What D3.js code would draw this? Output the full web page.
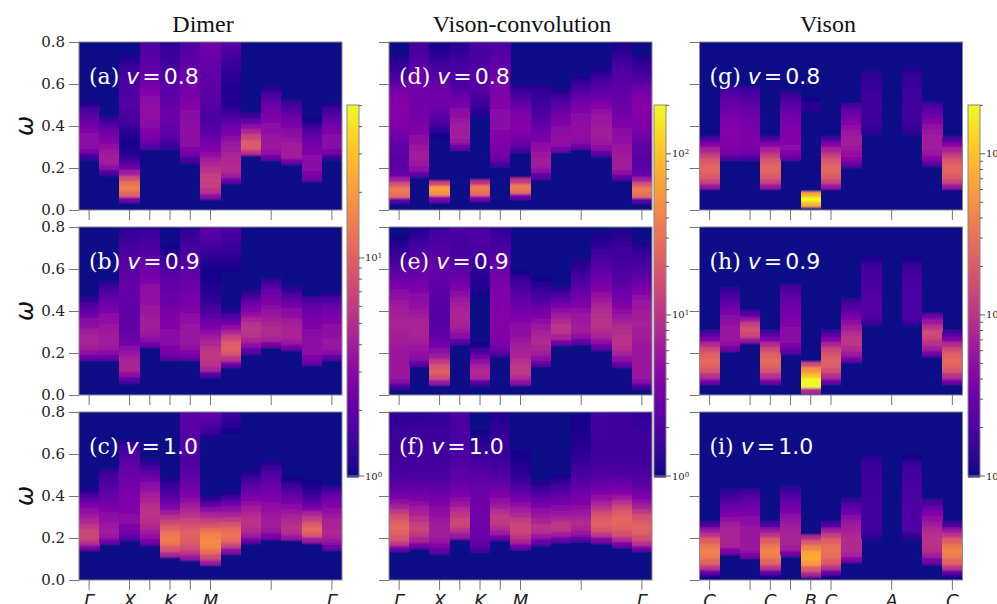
<!DOCTYPE html>
<html lang="en">
<head>
<meta charset="UTF-8">
<title>Dimer and vison spectra</title>
<script src="https://d3js.org/d3.v7.min.js"></script>
<style>
  html, body { margin: 0; background: #fff; overflow: hidden; }
  svg { display: block; }
  .axis path, .axis line { stroke: #777; }
  .axis text { font-family: "DejaVu Serif", serif; fill: #222; }
</style>
</head>
<body>
<svg id="chart" width="997" height="604">
  <defs>
    <filter id="soft" x="-2%" y="-2%" width="104%" height="104%"><feGaussianBlur stdDeviation="0.4 1"/></filter>
  </defs>
</svg>
<script>
// each column: first entry = omega where the band starts, then intensity per 0.025 bin going up
const binStep = 0.025;
const ticksAt = [0, 2, 3, 4, 5, 6, 9, 12];
const dimerTickLabels = ["Γ", "X", "", "K", "", "M", "", "Γ"];
const visonTickLabels = ["C", "", "C", "", "B", "C", "A", "C"];
const omegaTicks = [0, 0.2, 0.4, 0.6, 0.8];

const dimer08 = [
  [.241,1.8,3.4,4,4,3.9,3.6,3.2,2.8,2.4,2,1.5,1.2],
  [.168,2.2,4,5,5.2,4.8,4.3,3.7,3.2,2.8,2.3,1.8,1.3],
  [.04,3.5,14,19,16,10,5,3,2.2,1.7,1.5,1.4,1.4,1.5,1.6,1.8,2,2.1,2.2,2.3,2.3,2.2,2.2,2.1,2,1.9,1.8,1.6,1.5,1.3,1.2],
  [.294,2.4,3,3.4,3.6,3.8,4.1,4.3,4.4,4.2,4,3.7,3.4,3.1,2.9,2.7,2.6,2.5,2.4,2.3,2.2,2.1],
  [.294,1.8,2.2,2.5,2.6,2.7,2.8,2.8,2.8,2.7,2.6,2.5,2.4,2.3,2.2,2.1,2,1.9,1.8,1.8,1.7,1.6],
  [.227,2,3,3.6,4,4.1,4.2,4.1,4,3.9,3.8,3.7,3.6,3.4,3.2,3.1,3,2.9,2.8,2.7,2.5,2.4,2.3,2.1],
  [.054,4,7,8,8.4,8,7,6,5,4.2,3.6,3.2,2.8,2.5,2.3,2.2,2.1,2.2,2.3,2.4,2.4,2.4,2.5,2.5,2.6,2.6,2.7,2.8,2.9,2.9,3],
  [.13,3,5,6.2,6.4,6,5.4,5,4.5,4,3.5,3,2.5,2.1,1.8,1.6,1.5,1.5,1.5,1.5,1.6,1.6,1.7,1.8,1.9,2,2.2,2.4],
  [.262,7,12,12,9,6,4,2.8,1.8],
  [.24,3,4.4,4.8,4.8,4.5,4.2,4,3.7,3.4,3.1,2.8,2.4,2,1.6,1.2],
  [.219,3,5,5.2,5,4.6,4.2,3.8,3.4,3,2.6,2.2,1.9,1.3],
  [.138,3,3.6,3.9,3.9,3.8,3.6,3.3,3,2.6,2.2,1.8,1.4,1.2],
  [.24,1.8,3.3,3.8,3.9,3.8,3.5,3.1,2.7,2.3,1.9,1.5,1.2]
];
const dimer09 = [
  [.166,2.8,4.4,5.2,5.5,5.5,5,4.4,3.8,3.2,2.6,2.2,1.7,1.3],
  [.166,2.8,4,4.8,5,5,4.8,4.6,4.2,3.8,3.4,3,2.7,2.3,2,1.7,1.3],
  [.06,2.4,4.4,5.6,5.8,5.4,4.6,3.8,3.2,2.9,2.7,2.6,2.6,2.6,2.6,2.6,2.7,2.7,2.7,2.7,2.6,2.5,2.4,2.4,2.3,2.2,2,1.9,1.8,1.7,1.6],
  [.23,3,3.8,4.8,5.2,5.3,5,4.8,4.6,4.4,4.3,4.2,4,3.6,3.3,3,2.8,2.6,2.4,2.2,2.1,2,1.9,1.7],
  [.166,2.6,3.3,3.6,3.8,3.8,3.8,3.7,3.6,3.5,3.3,3.1,2.9,2.8,2.7,2.6,2.5,2.3,2.1,1.9,1.7,1.5,1.4,1.3,1.3,1.2],
  [.166,2.8,3.6,4.2,4.5,4.6,4.6,4.5,4.3,4,3.7,3.5,3.3,3.1,2.9,2.8,2.7,2.6,2.5,2.3,2.2,2.1,2,1.9,1.8,1.7],
  [.087,2.5,5.5,7,7.6,7.6,7,6,5,4.2,3.5,3,2.5,2.2,1.9,1.7,1.6,1.5,1.5,1.4,1.4,1.4,1.5,1.6,1.7,1.9,2.1,2.3,2.4,2.5],
  [.135,3,7,11,13,12,9,6,4.2,3,2.2,1.6,1.3,1.1,1,1,1,1.1,1.2,1.4,1.5,1.6,1.7,1.8,1.9,2,2,2.1],
  [.198,2.6,4.2,5.8,6.8,7.2,6.8,5.6,4.4,3.5,2.8,2.2,1.7,1.2],
  [.23,3.6,5.4,6.2,6.2,5.8,5.2,4.6,4,3.6,3.2,2.8,2.3,1.8,1.3],
  [.214,3,4.8,5.8,5.8,5.6,5,4.4,3.8,3.2,2.7,2.2,1.7,1.2],
  [.143,2.8,3.6,4,4,4,3.9,3.8,3.6,3.3,3,2.8,2.5,2,1.3],
  [.166,2.6,3.8,4.5,4.6,4.4,4.2,4,3.7,3.4,3.1,2.7,2.2,1.6]
];
const dimer10 = [
  [.143,3.6,7,9.4,9,7.4,6,5,4.2,3.4,2.6,2,1.5,1.2],
  [.174,3,4.6,5,4.8,4.4,4,3.6,3.2,2.9,2.6,2.4,2.2,2,1.8,1.3],
  [.193,2.4,3.2,3.6,3.8,3.8,3.7,3.6,3.5,3.4,3.3,3.1,3,2.9,2.7,2.5,2.3,2.1,1.9,1.5,1.2],
  [.17,3,4.4,5.2,6,6.6,7,7,6.6,5.8,5,4.4,3.8,3.2,2.6,2.1,1.7,1.3,1.2,1.1],
  [.111,6,11,17,19,17,13,9.5,7,5,3.6,2.8,2.3,2,1.8,1.5,1.3,1.2,1.2,1.2,1.1,1.1,1.1],
  [.095,4.5,7.5,10,12,13,13,11,9,7,6,5,4,3.6,3.2,2.9,2.7,2.5,2.3,2.2,2.2,2.2,2.3,2.3,2.3,2.4,2.4,2.4,2.4,2.4],
  [.074,5,10,16,21,22,20,16,11,8,5.5,3.8,2.5,1.7,1.2,1,1,1,1,1,1,1,1.1,1.2,1.3,1.5,1.8,2.1,2.4,2.6],
  [.127,4,9,15,17,15,11,7.5,5.5,4,2.9,2,1.5,1.2,1,1,1,1,1,1.1,1.1,1.2,1.2,1.3,1.4,1.6,1.7,1.8],
  [.177,3,5,6.4,7,7,6.2,5.2,4.3,3.6,3,2.6,2.2,1.8,1.5,1.2],
  [.198,3.4,4.8,5,5,4.8,4.4,4,3.6,3.3,3,2.7,2.4,2.1,1.8,1.5,1.3,1.2],
  [.19,4.5,6.5,7,6.2,5.4,4.6,3.8,3.2,2.7,2.2,1.8,1.4],
  [.179,5,12,15,12,8,5.5,3.6,2.6,2,1.7,1.5,1.4,1.3,1.3,1.2,1.2,1.1],
  [.146,3,4.6,5.6,6,5.8,5.4,4.8,4.2,3.6,3,2.5,1.9,1.3]
];

const conv08 = [
  [.035,3.5,42,52,26,9,4,3.4,3.2,3.2,3.4,3.6,3.9,4.4,5,5.6,5.8,6,6,6,5.8,5.4,4.6,3.8,3,2.5,2.2,2,1.8,1.5,1.2,1.1],
  [.159,3.6,7,8.8,9.2,9,8.4,7.6,6.8,6,5.4,5,4.8,4.6,4.6,4.6,4.6,4.6,4.4,4.2,4,3.6,3.3,3,2.8,2.6,2.4],
  [.041,6,70,90,20,1,1,1,1,1,1,1,1,1.6,2,2.4,3,3.6,4.2,4.6,4.8,4.6,4.2,3.8,3.4,3,2.6,2.3,2,1.8,1.6,1.4],
  [.289,4.4,8,9,9.2,9,8.4,7.4,6.2,5,4.2,3.6,3.2,2.9,2.8,2.7,2.6,2.5,2.3,2.1,2,1.9],
  [.044,6,40,50,14,1,1,1,1,1,1,1,1,1,1,1,1.4,1.8,2,2.3,2.6,3,3.2,3.2,3.2,3.1,3,2.9,2.8,2.7,2.6,2.4],
  [.206,2.6,4,4.8,5.2,5.6,5.8,6,6.2,6.2,6.2,6.2,6,5.8,5.6,5.4,5.2,4.8,4.4,4,3.6,3.4,3.2,3,2.8],
  [.052,5,42,52,16,1,1,1,1,1,3,4,5,5.6,6,6,5.8,5.2,4.4,3.6,2.8,2.2,1.8,1.5,1.2],
  [.151,3.6,7,9,9.4,8.8,7.6,6.4,5.4,4.6,4,3.6,3.2,2.8,2.5,2.3,2.2,2,1.8,1.4],
  [.278,5,7,7.6,7,6.4,5.8,5,4.4,3.6,3,2.4,1.8,1.3],
  [.29,4.2,6.4,7.2,7.2,7,6.6,6.2,5.6,5,4.2,3.4,2.8,2.2,1.7],
  [.259,3.8,7,8.6,9.4,9.4,9,8.6,8,7,6,5,4.2,3.5,3,2.5,2.1,1.7,1.3],
  [.143,3.6,7,9,9.4,9.2,8.8,8.2,7.6,7,6.4,5.8,5.2,4.8,4.4,4.2,4,3.8,3.6,3.4,3.2,3,2.8,2.5,2.2,1.9,1.7,1.6],
  [.035,3.5,42,52,26,9,4,3.4,3.2,3.2,3.4,3.6,3.9,4.4,5,5.6,5.8,6,6,6,5.8,5.4,4.6,3.8,3,2.5,2.2,2,1.8,1.5,1.2,1.1]
];
const conv09 = [
  [.029,2.8,6.4,8.4,8.8,8.6,8.4,8.4,8.6,9,9.4,9.8,10,10.2,10,9.6,9,8.4,7.4,6.4,5.4,4.6,4,3.5,3,2.6,2.3,2,1.8,1.6,1.4,1.2],
  [.138,3.8,6.4,7.6,8.4,9.4,10.4,11,11,10.4,9.6,8.6,7.6,6.8,6.2,5.6,5,4.6,4.2,3.8,3.5,3.2,3,2.7,2.4,2.1,1.9,1.7],
  [.048,8,22,32,26,16,9,6.4,5,4.2,3.6,3.4,3.2,3.2,3.2,3.2,3.2,3.2,3.3,3.4,3.6,3.8,3.8,3.8,3.6,3.4,3.2,3,2.8,2.6,2.3,2.1],
  [.245,3.4,6.4,8.4,10,11,11,10.4,9.4,8,6.6,5.4,4.6,4,3.6,3.3,3,2.8,2.6,2.5,2.6,2.7,2.8,2.9],
  [.048,3,11,12.4,10,7,4.4,2.6,1.6,1.1,1,1,1,1.1,1.2,1.3,1.4,1.5,1.6,1.7,1.8,1.9,2,2.1,2.3,2.5,2.7,2.9,3,3,2.9],
  [.187,3,4.6,5.2,5.6,5.8,6,6,6,6,5.8,5.8,5.6,5.4,5.2,5,4.6,4.2,3.8,3.4,3,2.6,2.4,2.3,2.1,2.1],
  [.048,7,12,16,16,13,11,10,9,8.4,7.6,7,6.4,5.8,5.2,4.6,4,3.6,3.2,2.8,2.4,2,1.6,1.2],
  [.138,4,7,9,11,12,11.4,10,8.6,7,5.8,4.8,3.8,3,2.6,2.2,1.9,1.6,1.4,1.2],
  [.24,5,11,15,15,12,9,6.6,5,3.8,2.8,2,1.4,1.1],
  [.242,4,7.4,9,9.4,8.8,8,7,6,5,4.2,3.6,3,2.6,2.3,2,1.8,1.4,1.2],
  [.217,4,7.6,10,12.4,14,14,13,12,10.4,8.6,7.2,6,5,4.4,3.8,3.4,3,2.7,2.4,2.1,1.9,1.7,1.4],
  [.135,4,7,10,13,14,14,13,12,10,8.6,7.2,6,5.2,4.6,4,3.6,3.2,3,2.8,2.6,2.5,2.4,2.3,2.2,2,1.8],
  [.029,2.8,6.4,8.2,8.8,8.8,8.6,8.4,8.4,8.8,9.2,9.6,9.8,10,9.8,9.4,8.8,8,7,6,5,4.2,3.6,3.1,2.8,2.5,2.2,1.9,1.7,1.5,1.3,1.1]
];
const conv10 = [
  [.139,5,16,26,34,36,32,24,15,10,6.8,5,4,3.4,3,2.7,2.5,2.4,2.4,2.4,2.4,2.4,2.4,2.3,2.2,2.1,2.1,2],
  [.154,5,11,16,20,18,14,11,9,7,5.4,4.4,3.6,3.2,2.9,2.7,2.6,2.5,2.5,2.5,2.5,2.4,2.4,2.3,2.2,2.1,2],
  [.127,3.6,6,8,9,9.2,9,8.4,7.6,6.6,5.6,4.8,4.2,3.6,3.2,2.9,2.7,2.6,2.5,2.4,2.4,2.4,2.3,2.3,2.3,2.2,2.2,2.2,2.1],
  [.198,8,14,20,20,16,12,8.6,6.6,5.4,4.6,4,3.6,3.4,3.2,3,2.9,2.9,2.8,2.8,2.8,2.8,2.8,2.8,2.8],
  [.135,2.8,3.6,4,4.2,4.4,4.5,4.5,4.5,4.5,4.4,4.4,4.2,4,3.6,3.3,3,2.8,2.5,2.3,2.1,1.9,1.7,1.6,1.5,1.4,1.3,1.2],
  [.19,4.6,9,13,16,16,13,9.4,7.4,5.8,4.8,4,3.4,3,2.7,2.5,2.3,2.2,2.2,2.2,2.2,2.1,2,1.9,1.8,1.7],
  [.147,5,11,16,20,20,17,12,9,7,5.2,4,3.2,2.6,2.2,1.9,1.8,1.7,1.6,1.6,1.5,1.5,1.4,1.4,1.4,1.3,1.2],
  [.17,4,8.4,13,14,11,8.4,6.8,5.2,4,3,2.4,1.9,1.5,1.3,1.2,1.2,1.2,1.2,1.2,1.2,1.2,1.3,1.3,1.3,1.2,1.2],
  [.182,4.2,9,15,15,11,8,6.2,5,4,3.2,2.6,2,1.6,1.4,1.3,1.2,1.2,1.2,1.2,1.2,1.2,1.2,1.2,1.2,1.2],
  [.185,4,8,11,12,10,8,6.8,5.8,5,4.2,3.6,3.2,2.8,2.5,2.3,2.1,2,1.9,1.8,1.7,1.7,1.6,1.6,1.6,1.5],
  [.179,6,16,28,32,30,24,15,10,7.6,5.8,4.6,3.8,3.2,2.9,2.6,2.5,2.4,2.4,2.4,2.4,2.5,2.5,2.5,2.5,2.5],
  [.158,5,12,24,32,36,36,30,22,14,8.4,6,4.6,3.8,3.2,2.8,2.6,2.5,2.4,2.4,2.4,2.4,2.4,2.4,2.4,2.3,2.3],
  [.139,5,14,24,32,34,30,24,15,10,6.8,5.2,4.2,3.6,3.2,2.9,2.7,2.5,2.4,2.4,2.3,2.3,2.3,2.3,2.2,2.2,2.1,2]
];

const vison08 = [
  [.1,8,20,30,36,34,27,18,11,6,3],
  [.238,3.2,5,5.6,5.8,6,6,6,5.6,5,4.6,4,3.6,3,2.6],
  [.238,3,4.6,5.2,5.4,5.4,5.2,5,4.8,4.4,4,3.6,3.2,2.8,2.3],
  [.1,8,20,30,36,34,27,18,11,6,3],
  [.238,4.2,6,6.2,6,5.8,5.6,5.4,5,4.6,4,3.4,2.8,2.2,1.4],
  [.014,120,300,110,1,1,1,1,1,1,1,1,1,1,1,1,1,1,1.5,1.8,1.9,1.6],
  [.1,8,20,30,36,34,27,18,11,6,3],
  [.206,3.8,6,7.6,8.8,9.2,9.2,8.6,7.4,6,4.8,3.8,2.8],
  [.36,2,2.2,2.3,2.4,2.4,2.4,2.3,2.3,2.2,2.2,2.1,2],
  [.8],
  [.357,2,2.2,2.3,2.4,2.4,2.4,2.4,2.3,2.3,2.2,2.2,2.1,1.7],
  [.21,3.6,6,8,9.2,9.2,9,8.4,7.4,6,4.6,3.6,2.8],
  [.1,8,20,30,36,34,27,18,11,6,3]
];
const vison09 = [
  [.055,5,14,26,36,38,32,22,12,6,3],
  [.209,4.8,7.2,8.4,8.4,8,7.2,6.2,5.2,4.2,3.4,2.8,2.2],
  [.25,8,20,24,18,8,3.2],
  [.055,5,14,26,36,38,32,22,12,6,3],
  [.198,3.6,5.6,6.4,6.6,6.4,6,5.6,5,4.6,4.2,3.8,3.2,2.6],
  [.008,12,290,300,140,70,22],
  [.055,5,13,24,32,34,28,20,11,6,3],
  [.158,4.6,8.6,12,15,15,12.5,9.4,7.4,5.4,4,3,2.4],
  [.336,2.4,3,3.2,3.2,3.1,3,2.9,2.8,2.7,2.6,2.5,2.3,1.7],
  [.8],
  [.333,2.2,2.8,2.9,2.9,2.9,2.8,2.8,2.7,2.6,2.5,2.4,2.2,1.6],
  [.187,5,9,14,20,22,15,8.4,4.6],
  [.055,5,14,26,36,38,32,22,12,6,3]
];
const vison10 = [
  [0,1.6,4,16,36,52,58,50,32,16,8,3],
  [.127,6,10,11,11,10,9,7.4,5.8,4.4,3.4,2.8,2.2],
  [.108,5.4,8,8.6,8.6,8.4,8,7,6.2,5.2,4.4,3.8,3.2,2.4],
  [0,1.6,4,16,36,52,58,50,32,16,8,3],
  [.116,5.4,9,10,10.4,10,9,8,6.8,5.6,4.6,3.6,3,2.3],
  [.016,10,30,80,110,100,60,30,12],
  [0,1.6,4,14,30,40,45,42,32,18,9,3],
  [.087,6,10,12,12.6,12,11,9.4,8,6.2,4.6,3.4,2.4],
  [.198,2.1,2.4,2.5,2.5,2.5,2.5,2.5,2.5,2.4,2.4,2.4,2.4,2.3,2.3,2.2,1.9,1.5],
  [.8],
  [.198,2.1,2.8,3,3,3,3,3,2.9,2.9,2.8,2.7,2.6,2.5,2.3,2.1,1.6],
  [.079,5,9,13,14,14,13,11.4,9.4,7.6,5.6,4.2,2.8],
  [0,1.6,4,16,36,52,58,50,32,16,8,3]
];

const colTitles = ["Dimer", "Vison-convolution", "Vison"];
const vmaxes = [50.3, 201, 201];
const readCal = [1.3, 1.45, 1.45]; // my readings came out high against the colour bar
const panelLetters = ["a", "b", "c", "d", "e", "f", "g", "h", "i"];
const couplings = ["0.8", "0.9", "1.0"];
const panelData = [[dimer08, dimer09, dimer10], [conv08, conv09, conv10], [vison08, vison09, vison10]];

// layout
const colX = [79, 389, 699.5];
const rowY = [42, 227, 412];
const panelW = 263, panelH = 168;
const cbarX = [347, 654, 968], cbarW = 12, cbarTop = 105, cbarBottom = 476;
const titleX = [203, 522, 828];
const spine = "#888";

const svg = d3.select("#chart");
const x = d3.scaleBand().domain(d3.range(13)).range([0, panelW]);
const y = d3.scaleLinear().domain([0, 0.8]).range([panelH, 0]);

function colorFor(vmax) {
  const t = d3.scaleLog().domain([1, vmax]).range([0, 1]).clamp(true);
  return v => d3.interpolatePlasma(t(v));
}

colTitles.forEach((title, c) => {
  svg.append("text").attr("x", titleX[c]).attr("y", 32)
    .attr("text-anchor", "middle")
    .style("font-family", "'Liberation Serif', serif").style("font-size", "24px").style("fill", "#111")
    .text(title);

  const color = colorFor(vmaxes[c]);

  rowY.forEach((top, r) => {
    const clipId = `clip-${c}-${r}`;
    svg.select("defs").append("clipPath").attr("id", clipId)
      .append("rect").attr("width", panelW).attr("height", panelH);

    const g = svg.append("g").attr("transform", `translate(${colX[c]},${top})`);
    const heat = g.append("g").attr("clip-path", `url(#${clipId})`)
      .append("g").attr("filter", "url(#soft)");
    heat.append("rect").attr("x", -6).attr("y", -6)
      .attr("width", panelW + 12).attr("height", panelH + 12).attr("fill", color(1));

    // one rect per intensity bin
    const cells = [];
    panelData[c][r].forEach((col, i) => {
      col.slice(1).forEach((v, k) => {
        const lo = col[0] + k * binStep;
        if (lo < 0.8) cells.push({ i, lo, hi: Math.min(0.8, lo + binStep), v: Math.max(1, v / readCal[c]) });
      });
    });
    heat.selectAll("rect.cell").data(cells).enter().append("rect")
      .attr("class", "cell")
      .attr("shape-rendering", "crispEdges")
      .attr("x", d => x(d.i))
      .attr("y", d => y(d.hi))
      .attr("width", x.bandwidth() + 0.3)
      .attr("height", d => y(d.lo) - y(d.hi) + 0.3)
      .attr("fill", d => color(d.v));

    g.append("rect").attr("width", panelW).attr("height", panelH)
      .attr("fill", "none").attr("stroke", spine).attr("stroke-width", 1);

    const left = g.append("g").attr("class", "axis")
      .call(d3.axisLeft(y).tickValues(omegaTicks).tickSize(10).tickPadding(4)
        .tickFormat(c === 0 ? d3.format(".1f") : ""));
    left.select(".domain").remove();
    left.selectAll("text").style("font-size", "15px");

    const names = c === 2 ? visonTickLabels : dimerTickLabels;
    const bottom = g.append("g").attr("class", "axis").attr("transform", `translate(0,${panelH})`)
      .call(d3.axisBottom(x).tickValues(ticksAt).tickSize(10).tickPadding(4)
        .tickFormat(r === 2 ? (d, i) => names[i] : ""));
    bottom.select(".domain").remove();
    bottom.selectAll("text")
      .style("font-family", "'DejaVu Sans', sans-serif").style("font-style", "italic").style("font-size", "18px");

    // panel tag
    const tag = g.append("text").attr("x", 10).attr("y", 42).attr("fill", "#fff")
      .style("font-size", "22px").style("font-family", "'DejaVu Sans', sans-serif");
    tag.append("tspan").style("font-family", "'DejaVu Serif', serif").text(`(${panelLetters[c * 3 + r]}) `);
    tag.append("tspan").style("font-style", "italic").text("v");
    tag.append("tspan").attr("dx", 3).text("=");
    tag.append("tspan").attr("dx", 3).text(couplings[r]);

    if (c === 0) {
      svg.append("text")
        .attr("transform", `translate(33,${top + panelH / 2}) rotate(-90)`)
        .attr("text-anchor", "middle")
        .style("font-family", "'DejaVu Sans', sans-serif").style("font-style", "italic")
        .style("font-size", "24px").style("fill", "#111")
        .text("ω");
    }
  });

  // colour bar
  const cbScale = d3.scaleLog().domain([1, vmaxes[c]]).range([cbarBottom, cbarTop]);
  const cb = svg.append("g").attr("transform", `translate(${cbarX[c]},0)`);
  const levels = d3.range(cbarTop, cbarBottom, 1.5);
  cb.selectAll("rect.lvl").data(levels).enter().append("rect")
    .attr("class", "lvl")
    .attr("y", d => d).attr("width", cbarW).attr("height", 2)
    .attr("fill", d => color(cbScale.invert(d + 0.75)));
  cb.append("rect").attr("y", cbarTop).attr("width", cbarW).attr("height", cbarBottom - cbarTop)
    .attr("fill", "none").attr("stroke", spine);

  const decades = [1, 10, 100].filter(v => v <= vmaxes[c]);
  const minors = d3.range(0, 3).flatMap(e => d3.range(2, 10).map(m => m * 10 ** e)).filter(v => v <= vmaxes[c]);
  cb.selectAll("line.minor").data(minors).enter().append("line")
    .attr("x1", cbarW).attr("x2", cbarW + 3)
    .attr("y1", d => cbScale(d)).attr("y2", d => cbScale(d))
    .attr("stroke", "#333").attr("stroke-width", 0.8);
  cb.selectAll("line.major").data(decades).enter().append("line")
    .attr("x1", cbarW).attr("x2", cbarW + 5)
    .attr("y1", d => cbScale(d)).attr("y2", d => cbScale(d))
    .attr("stroke", "#333").attr("stroke-width", 0.8);
  const lab = cb.selectAll("text.dec").data(decades).enter().append("text")
    .attr("x", cbarW + 6).attr("y", d => cbScale(d) + 3.5)
    .style("font-family", "'DejaVu Serif', serif").style("font-size", "10px").style("fill", "#222");
  lab.append("tspan").text("10");
  lab.append("tspan").attr("dy", -3).style("font-size", "7px").text(d => Math.round(Math.log10(d)));
});
</script>
</body>
</html>
